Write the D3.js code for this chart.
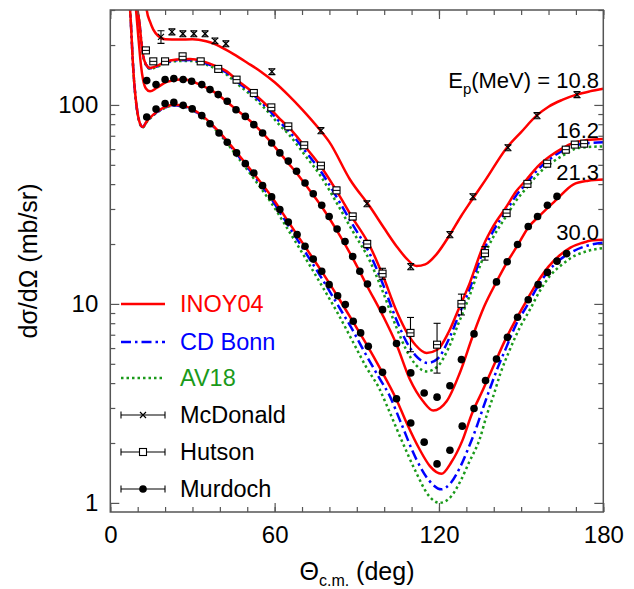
<!DOCTYPE html>
<html><head><meta charset="utf-8">
<script src="https://cdn.jsdelivr.net/npm/d3@7"></script>
<style>body{margin:0;background:#fff;} svg text{font-family:"Liberation Sans",Arial,sans-serif;}</style>
</head><body><svg id="c" width="634" height="589"></svg>
<script>
// ---------- data (theta_cm in deg, dσ/dΩ in mb/sr) ----------
const energies = ["10.8","16.2","21.3","30.0"];
const xMajorTicks = [0,60,120,180];
const yMajorTicks = [1,10,100];

const inoy_108 = [[12.3,450],[13.3,300],[14.5,262],[15.7,239],[17.5,222],[20,214],[25,213],[30,214],[35,209],[38.2,202],[42,190],[45,180],[50,163],[55,147],[60,130],[65,112],[70,95],[76.5,75],[80,65],[87.5,42.2],[95,30.5],[100,24],[104.5,19.5],[108,17],[111.8,15.5],[115,15.8],[119,17.7],[124,22.3],[128,27.5],[131.5,32.5],[137,42],[144.7,60.8],[150,73],[155.6,88.3],[160,98],[165,106],[170.2,112.7],[175,117],[180,120.5]];

const inoy_162 = [[9.3,420],[10.0,300],[10.6,262],[11.3,210],[12.0,177],[13.0,160],[14.5,153.5],[17,157],[19.3,162.6],[24.2,169],[29.1,170],[33.9,165.6],[38.8,156.3],[42.5,147.5],[46.1,134],[52.2,115],[58.3,96],[61.9,85],[65,77.5],[70.8,62.5],[76.9,49],[82.6,37],[88.5,27],[94.8,19.5],[99.4,14.0],[104.5,9.2],[108,7.3],[111.5,6.2],[115.5,5.67],[119.5,5.9],[123.5,7.2],[127,9.3],[131.3,12.8],[136.1,19.5],[140,24.8],[144.7,30.9],[148,36.5],[152,42.2],[156,49],[160.5,55.2],[165,60.5],[169,64.4],[174,66.6],[180,67.5]];
const cdb_162 = [[9.3,420],[10.0,300],[10.6,262],[11.3,210],[12.0,177],[13.0,160],[14.5,153],[17,156],[19.3,161.5],[24.2,167.5],[29.1,168],[33.9,163.5],[38.8,154],[42.5,145],[46.1,131.5],[52.2,112.5],[58.3,93],[61.9,82],[65,74.5],[70.8,59.5],[76.9,46.3],[82.6,34.5],[88.5,25],[94.8,17.8],[99.4,12.7],[104.5,8.3],[108,6.5],[111.5,5.5],[116,5.05],[119.5,5.3],[123.5,6.6],[127,8.6],[131.3,12.0],[136.1,18.3],[140,23.5],[144.7,29.5],[148,34.8],[152,40.5],[156,47.2],[160.5,53.5],[165,58.8],[169,62.3],[174,64.2],[180,64.9]];
const av18_162 = [[9.3,420],[10.0,300],[10.6,262],[11.3,209],[12.0,176],[13.0,159],[14.5,152],[17,155],[19.3,160.5],[24.2,166],[29.1,166.5],[33.9,161.5],[38.8,151.5],[42.5,142],[46.1,128.5],[52.2,109.5],[58.3,90],[61.9,79],[65,71.5],[70.8,56.5],[76.9,43.7],[82.6,32.3],[88.5,23.2],[94.8,16.4],[99.4,11.6],[104.5,7.6],[108,5.9],[111.5,4.95],[115.5,4.58],[119.5,4.85],[123.5,6.0],[127,7.9],[131.3,11.1],[136.1,17.0],[140,21.9],[144.7,27.8],[148,32.8],[152,38.3],[156,44.6],[160.5,50.5],[165,55.5],[171.1,60.8],[180,61.9]];

const inoy_213 = [[8.6,420],[9.4,300],[10.3,215],[11.2,158],[12.0,133],[13.0,121],[14.5,117],[17,122],[20.6,130.5],[26.6,134.5],[32.7,126.5],[38,116],[44.9,97.5],[52.4,80],[58.9,64.4],[61.9,57.4],[65,51],[68,45.5],[71.1,40],[77.2,30.8],[82.8,23.3],[88.5,17.0],[93.9,12.2],[99.4,8.8],[104.5,6.25],[109.4,4.17],[114.2,3.24],[117.9,2.91],[122.8,3.24],[127.6,4.5],[132.5,7.0],[136.5,9.7],[141,12.9],[144.9,16.2],[148.9,19.9],[152.6,24.2],[156.8,27.8],[162.9,33.4],[169,39.8],[174.5,41.6],[180,42.2]];

const inoy_300 = [[6.6,420],[7.45,268],[8.4,150],[9.6,98.5],[10.8,81],[11.8,77.5],[13.3,82.7],[15.7,89.4],[19.3,96.6],[23,100.3],[26.6,99.2],[30.3,94.7],[33.9,87.6],[37.6,78.5],[41.2,69.5],[46,58],[52.2,45.5],[58.9,34.6],[65,25.9],[71.1,19.4],[77,14.7],[83,10.9],[88.7,8.1],[94.2,6.05],[98.4,4.77],[104.5,3.30],[108.2,2.52],[113,1.85],[116.7,1.53],[120.9,1.40],[124.5,1.6],[128.5,2.05],[132,2.8],[136.1,3.71],[140,4.9],[144,6.5],[148,8.3],[152,10.4],[156,12.9],[160,15.4],[164,17.5],[168,19.2],[172,20.2],[176.3,20.9],[180,21.0]];
const cdb_300 = [[6.6,420],[7.45,268],[8.4,150],[9.6,98.5],[10.8,81],[11.8,77.5],[13.3,82.5],[15.7,89],[19.3,96],[23,99.5],[26.6,98.5],[30.3,94],[33.9,87],[37.6,78],[41.2,69],[46,57],[52.2,44.5],[58.9,33.5],[65,24.8],[71.1,18.3],[77,13.6],[83,9.9],[88.7,7.3],[92.3,5.9],[98.4,4.2],[102.1,3.43],[106,2.55],[111.8,1.65],[116.5,1.29],[120.9,1.17],[124.5,1.27],[127.6,1.50],[130.5,1.85],[133.7,2.4],[136.1,3.0],[138.6,3.75],[141.5,4.8],[144.7,6.1],[148,7.8],[152,9.73],[156,12.2],[159.9,14.6],[164,16.6],[169,18.4],[174,19.6],[180,20.3]];
const av18_300 = [[6.6,420],[7.45,268],[8.4,150],[9.6,98],[10.8,80.5],[11.8,77],[13.3,82],[15.7,88.5],[19.3,95.5],[23,99],[26.6,98],[30.3,93.5],[33.9,86.3],[37.6,77.2],[41.2,68],[46,55.8],[52.2,43],[58.9,32],[65,23.5],[71.1,17.1],[77,12.5],[83,9.0],[88.7,6.4],[93.5,4.8],[98.4,3.71],[100.9,3.1],[106,2.12],[111.8,1.41],[116,1.1],[120.3,1.0],[124.5,1.08],[128,1.3],[131,1.6],[134.9,2.1],[137.4,2.75],[139.8,3.43],[142.5,4.5],[145.9,5.9],[149.5,7.6],[153.2,9.36],[156.8,11.6],[160.5,13.8],[165,15.8],[169,17.3],[174,18.4],[180,19.1]];

// experimental data: [theta, value, error]
const mcdonald_108 = [[18.5,220,16],[22.5,233,8],[26.5,228,8],[30.5,228,8],[34.6,228,8],[38.2,210,7],[42.2,203,7],[59.0,147,5],[76.9,74.3,2.6],[93.7,31.9,1.1],[109.7,15.4,0.55],[124.0,22.3,0.8],[132.4,34.6,1.2],[145.2,61.0,2.1],[155.8,88.4,3.1],[170.4,112.7,3.9]];
const hutson_162 = [[13.0,188,6],[15.7,165.6,5.5],[20.0,165.6,5.5],[26.4,175.5,6],[33.0,165.6,5.5],[39.4,151.7,5],[46.1,134,4.5],[52.4,114.8,4],[58.8,97.2,3.3],[65.0,78,2.6],[70.8,62.7,2.1],[76.9,49.5,1.7],[82.6,37.2,1.3],[88.5,27.5,1.0],[93.8,20.0,0.9],[99.4,14.2,0.9],[109.6,7.15,1.4],[119.3,6.24,1.75],[128.2,10.0,1.2],[136.8,18.0,1.4],[144.7,28.6,1.0],[152.3,40.1,1.4],[159.5,50.7,1.7],[166.3,59.6,2.0],[169.6,63.2,2.1],[173.0,63.9,2.2]];
const murdoch_213 = [[13.3,132.5],[16.7,126.5],[20.0,134.2],[23.2,135.6],[26.6,134.2],[29.7,131.5],[33.4,126.5],[36.4,119.4],[39.4,112.7],[42.7,104.3],[45.9,94.6],[49.3,87.6],[52.4,79.6],[55.6,72.3],[58.9,64.4],[61.9,57.4],[65.0,52.2],[68.0,46.4],[71.1,40.5],[74.1,35.8],[77.2,31.3],[79.9,27.5],[82.8,23.8],[85.7,20.6],[88.5,17.3],[91.1,14.6],[93.9,12.6],[99.4,9.36],[104.5,6.32],[109.7,4.50],[114.6,3.57],[119.3,3.40],[124.0,3.88],[128.2,5.25],[132.8,7.07],[141.0,12.9],[144.9,16.3],[148.7,19.9],[152.6,24.5],[156.0,27.5],[159.6,31.3],[163.1,34.7]];
const murdoch_300 = [[13.3,86.9],[16.7,95.3],[20.0,101.6],[23.2,103],[26.6,99.5],[29.9,95.5],[33.4,88.4],[36.4,80.5],[39.7,72.3],[42.7,64.9],[46.1,57.4],[49.3,50.7],[52.4,45.5],[55.6,39.3],[58.9,34.5],[61.9,29.8],[65.0,25.8],[68.2,22.3],[71.1,19.5],[74.1,16.8],[77.2,14.6],[79.9,12.5],[83.0,11.0],[85.8,9.92],[88.7,8.18],[91.4,7.15],[94.2,6.12],[99.4,4.53],[104.5,3.34],[109.7,2.52],[114.6,2.02],[119.3,1.57],[124.0,1.84],[128.5,2.43],[132.8,2.98],[137.0,4.12],[141.0,5.29],[145.0,6.79],[148.7,8.57],[152.6,10.5],[156.2,12.5],[159.6,14.4],[163.1,16.4],[166.6,17.9]];

const legendLabels = ["INOY04","CD Bonn","AV18","McDonald","Hutson","Murdoch"];

// ---------- chart ----------
const RED="#ff0000", BLUE="#0000ff", GREEN="#1a9a1a", INK="#000", FRAME="#555";
const svg = d3.select("#c");
const x = d3.scaleLinear().domain([0,180]).range([110.3,603.3]);
const y = d3.scaleLog().domain([0.9,300]).range([512,10]);

svg.append("clipPath").attr("id","pc").append("rect")
  .attr("x",x(0)).attr("y",y(300)).attr("width",x(180)-x(0)).attr("height",y(0.9)-y(300));
const plot = svg.append("g").attr("clip-path","url(#pc)");

const line = d3.line().x(d=>x(d[0])).y(d=>y(d[1])).curve(d3.curveMonotoneX);
const styles = {
  inoy:{stroke:RED,dash:null},
  cdb:{stroke:BLUE,dash:"10,4,2.5,4"},
  av18:{stroke:GREEN,dash:"2.5,3"}
};
function drawCurve(data, st){
  plot.append("path").datum(data).attr("d",line).attr("fill","none")
    .attr("stroke",st.stroke).attr("stroke-width",2.5)
    .attr("stroke-dasharray",st.dash);
}
[[av18_162,"av18"],[cdb_162,"cdb"],[av18_300,"av18"],[cdb_300,"cdb"],
 [inoy_108,"inoy"],[inoy_162,"inoy"],[inoy_213,"inoy"],[inoy_300,"inoy"]]
 .forEach(([d,k])=>drawCurve(d,styles[k]));

// error bars
function errBars(data){
  const gE = plot.append("g").attr("stroke",INK).attr("stroke-width",1.1);
  data.forEach(d=>{
    const cx=x(d[0]), y1=y(d[1]-d[2]), y2=y(d[1]+d[2]);
    gE.append("line").attr("x1",cx).attr("x2",cx).attr("y1",y1).attr("y2",y2);
    gE.append("line").attr("x1",cx-3.5).attr("x2",cx+3.5).attr("y1",y1).attr("y2",y1);
    gE.append("line").attr("x1",cx-3.5).attr("x2",cx+3.5).attr("y1",y2).attr("y2",y2);
  });
}
function crossMark(g,cx,cy){
  g.append("path").attr("d",`M${cx-3},${cy-3}L${cx+3},${cy+3}M${cx-3},${cy+3}L${cx+3},${cy-3}`)
    .attr("stroke",INK).attr("stroke-width",1.2).attr("fill","none");
}
function squareMark(g,cx,cy){
  g.append("rect").attr("x",cx-3.5).attr("y",cy-3.5).attr("width",7).attr("height",7)
    .attr("fill","#fff").attr("stroke",INK).attr("stroke-width",1.1);
}
function dotMark(g,cx,cy){
  g.append("circle").attr("cx",cx).attr("cy",cy).attr("r",3.8).attr("fill",INK);
}
errBars(mcdonald_108);
mcdonald_108.forEach(d=>crossMark(plot,x(d[0]),y(d[1])));
errBars(hutson_162);
hutson_162.forEach(d=>{squareMark(plot,x(d[0]),y(d[1]));
  plot.append("line").attr("x1",x(d[0])-3.5).attr("x2",x(d[0])+3.5).attr("y1",y(d[1])).attr("y2",y(d[1])).attr("stroke",INK).attr("stroke-width",1);});
murdoch_213.forEach(d=>dotMark(plot,x(d[0]),y(d[1])));
murdoch_300.forEach(d=>dotMark(plot,x(d[0]),y(d[1])));

// axes
const minorX = d3.range(0,181,10);
const minorY = [2,3,4,5,6,7,8,9,20,30,40,50,60,70,80,90,200,300];
function addAxis(axis, tr){
  const g = svg.append("g").attr("transform",tr).call(axis);
  g.select(".domain").remove();
  g.selectAll("line").attr("stroke",FRAME).attr("stroke-width",1.2);
  g.selectAll("text").attr("font-size",24).attr("fill","#000")
    .attr("font-family","Liberation Sans, Arial, sans-serif");
  return g;
}
const B=`translate(0,${y(0.9)})`, T=`translate(0,${y(300)})`, L=`translate(${x(0)},0)`, R=`translate(${x(180)},0)`;
addAxis(d3.axisBottom(x).tickValues(minorX).tickSize(-5).tickFormat(""),B);
addAxis(d3.axisBottom(x).tickValues(xMajorTicks).tickSize(-9).tickPadding(14).tickFormat(d3.format("d")),B);
addAxis(d3.axisTop(x).tickValues(minorX).tickSize(-5).tickFormat(""),T);
addAxis(d3.axisTop(x).tickValues(xMajorTicks).tickSize(-9).tickFormat(""),T);
addAxis(d3.axisLeft(y).tickValues(minorY).tickSize(-5).tickFormat(""),L);
addAxis(d3.axisLeft(y).tickValues(yMajorTicks).tickSize(-9).tickPadding(12).tickFormat(d3.format("d")),L);
addAxis(d3.axisRight(y).tickValues(minorY).tickSize(-5).tickFormat(""),R);
addAxis(d3.axisRight(y).tickValues(yMajorTicks).tickSize(-9).tickFormat(""),R);

svg.append("rect").attr("x",x(0)).attr("y",y(300)).attr("width",x(180)-x(0)).attr("height",y(0.9)-y(300))
  .attr("fill","none").attr("stroke",FRAME).attr("stroke-width",1.5);

// axis titles
svg.append("text").attr("transform","translate(37,261) rotate(-90)").attr("text-anchor","middle")
  .attr("font-size",25).text("dσ/dΩ (mb/sr)");
const xt = svg.append("text").attr("x",357).attr("y",580).attr("text-anchor","middle").attr("font-size",25);
xt.append("tspan").text("Θ");
xt.append("tspan").attr("font-size",16).attr("dy",6).text("c.m.");
xt.append("tspan").attr("dy",-6).text(" (deg)");

// energy labels
const eY = [88,138,180,240];
const e0 = svg.append("text").attr("x",599).attr("y",eY[0]).attr("text-anchor","end").attr("font-size",22);
e0.append("tspan").text("E");
e0.append("tspan").attr("font-size",15).attr("dy",6).text("p");
e0.append("tspan").attr("dy",-6).text("(MeV) = "+energies[0]);
energies.slice(1).forEach((e,i)=>{
  svg.append("text").attr("x",599).attr("y",eY[i+1]).attr("text-anchor","end").attr("font-size",22).text(e);
});

// legend
const legY = [304,342,378,415,452,489];
const lg = svg.append("g");
const legColors = [RED,BLUE,GREEN,INK,INK,INK];
legendLabels.forEach((lab,i)=>{
  const yy = legY[i];
  if(i<3){
    const st = [styles.inoy,styles.cdb,styles.av18][i];
    lg.append("line").attr("x1",121).attr("x2",165).attr("y1",yy).attr("y2",yy)
      .attr("stroke",st.stroke).attr("stroke-width",2.5).attr("stroke-dasharray",st.dash);
  } else {
    lg.append("line").attr("x1",121).attr("x2",165).attr("y1",yy).attr("y2",yy).attr("stroke",INK).attr("stroke-width",1.1);
    lg.append("line").attr("x1",121).attr("x2",121).attr("y1",yy-3.5).attr("y2",yy+3.5).attr("stroke",INK).attr("stroke-width",1.1);
    lg.append("line").attr("x1",165).attr("x2",165).attr("y1",yy-3.5).attr("y2",yy+3.5).attr("stroke",INK).attr("stroke-width",1.1);
    if(i===3) crossMark(lg,143,yy);
    if(i===4) squareMark(lg,143,yy);
    if(i===5) dotMark(lg,143,yy);
  }
  lg.append("text").attr("x",180).attr("y",yy+8).attr("font-size",23.5).attr("fill",legColors[i]).text(lab);
});
</script></body></html>
